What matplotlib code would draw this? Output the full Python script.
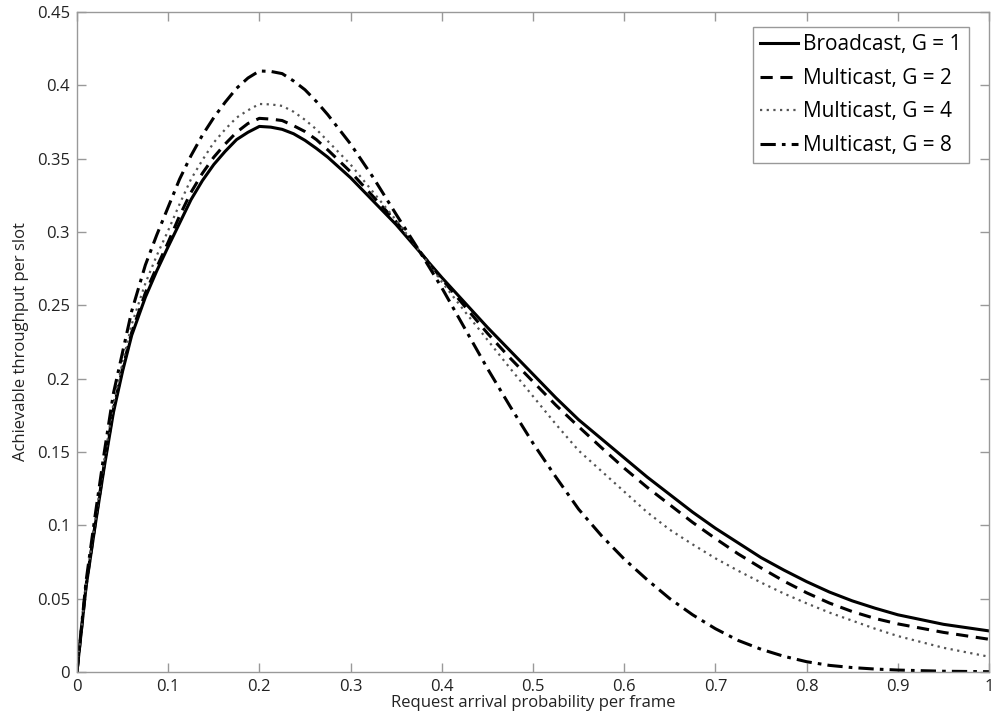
import matplotlib
matplotlib.use("Agg")
import matplotlib.pyplot as plt

plt.rcParams['font.family'] = ['Open Sans', 'DejaVu Sans']

# request arrival probability per frame (sample points)
p = [0.0, 0.01, 0.02, 0.03, 0.04, 0.05, 0.06, 0.075, 0.0875, 0.1, 0.1125, 0.125,
     0.1375, 0.15, 0.1625, 0.175, 0.1875, 0.2, 0.2125, 0.225, 0.2375, 0.25, 0.2625,
     0.275, 0.3, 0.325, 0.35, 0.375, 0.4, 0.425, 0.45, 0.475, 0.5, 0.525, 0.55,
     0.575, 0.6, 0.625, 0.65, 0.675, 0.7, 0.725, 0.75, 0.775, 0.8, 0.825, 0.85,
     0.875, 0.9, 0.95, 1.0]

broadcast_g1 = [0.0, 0.058, 0.100, 0.140, 0.177, 0.205, 0.2295, 0.2555, 0.2735, 0.290,
                0.306, 0.322, 0.335, 0.346, 0.355, 0.363, 0.368, 0.372, 0.3715, 0.370,
                0.367, 0.3625, 0.357, 0.351, 0.337, 0.321, 0.305, 0.287, 0.269, 0.252,
                0.235, 0.219, 0.203, 0.187, 0.172, 0.159, 0.146, 0.133, 0.121, 0.109,
                0.098, 0.088, 0.078, 0.0695, 0.0616, 0.0545, 0.0485, 0.0435, 0.039,
                0.0325, 0.028]

multicast_g2 = [0.0, 0.059, 0.101, 0.142, 0.179, 0.207, 0.2315, 0.2585, 0.276, 0.293,
                0.311, 0.327, 0.340, 0.351, 0.360, 0.368, 0.374, 0.3775, 0.377, 0.376,
                0.3725, 0.3685, 0.363, 0.356, 0.341, 0.324, 0.307, 0.2875, 0.268, 0.2495,
                0.231, 0.214, 0.198, 0.182, 0.1673, 0.153, 0.139, 0.126, 0.114, 0.102,
                0.091, 0.0805, 0.071, 0.062, 0.054, 0.047, 0.0412, 0.0365, 0.0328,
                0.027, 0.0223]

multicast_g4 = [0.0, 0.060, 0.103, 0.145, 0.183, 0.211, 0.237, 0.265, 0.284, 0.301,
                0.319, 0.336, 0.349, 0.361, 0.370, 0.378, 0.383, 0.3873, 0.387, 0.386,
                0.382, 0.3765, 0.370, 0.362, 0.346, 0.327, 0.308, 0.2875, 0.266, 0.246,
                0.2265, 0.207, 0.188, 0.169, 0.151, 0.137, 0.123, 0.109, 0.097, 0.087,
                0.0775, 0.069, 0.061, 0.0535, 0.0468, 0.0405, 0.035, 0.0295, 0.0245,
                0.0165, 0.0104]

multicast_g8 = [0.0, 0.062, 0.107, 0.150, 0.190, 0.218, 0.246, 0.2775, 0.298, 0.317,
                0.336, 0.352, 0.366, 0.378, 0.3885, 0.398, 0.405, 0.4098, 0.4095, 0.408,
                0.403, 0.397, 0.389, 0.380, 0.360, 0.337, 0.312, 0.2875, 0.262, 0.2345,
                0.207, 0.181, 0.156, 0.133, 0.111, 0.093, 0.077, 0.063, 0.050, 0.039,
                0.0295, 0.0215, 0.0155, 0.0107, 0.007, 0.0045, 0.003, 0.002, 0.0013,
                0.0005, 0.0002]

labels = ['Broadcast, G = 1', 'Multicast, G = 2', 'Multicast, G = 4', 'Multicast, G = 8']

fig = plt.figure(figsize=(9.93, 7.2), dpi=100)
ax = fig.add_axes([0.0775, 0.0667, 0.9185, 0.9166])

ax.plot(p, broadcast_g1, color='black', ls='-', lw=2.2, label=labels[0])
ax.plot(p, multicast_g2, color='black', ls=(0, (4, 2.5)), lw=2.2, label=labels[1])
ax.plot(p, multicast_g4, color='#555555', ls=(0, (1, 2)), lw=1.6, label=labels[2])
ax.plot(p, multicast_g8, color='black', ls=(0, (5, 2, 1.2, 2)), lw=2.2, label=labels[3])

ax.set_xlim(0, 1)
ax.set_ylim(0, 0.45)
ax.set_xticks([0, 0.1, 0.2, 0.3, 0.4, 0.5, 0.6, 0.7, 0.8, 0.9, 1])
ax.set_xticklabels(['0', '0.1', '0.2', '0.3', '0.4', '0.5', '0.6', '0.7', '0.8', '0.9', '1'])
ax.set_yticks([0, 0.05, 0.1, 0.15, 0.2, 0.25, 0.3, 0.35, 0.4, 0.45])
ax.set_yticklabels(['0', '0.05', '0.1', '0.15', '0.2', '0.25', '0.3', '0.35', '0.4', '0.45'])

for s in ax.spines.values():
    s.set_color('#999999')
    s.set_linewidth(1.0)
ax.tick_params(direction='in', length=6.5, width=1, color='#999999',
               top=True, right=True, labelsize=12, labelcolor='#222222')
ax.tick_params(axis='x', pad=5)
ax.tick_params(axis='y', pad=5)

ax.set_xlabel('Request arrival probability per frame', fontsize=12, labelpad=0, color='#222222')
ax.set_ylabel('Achievable throughput per slot', fontsize=12, labelpad=6, color='#222222')

leg = ax.legend(loc='upper right', bbox_to_anchor=(0.978, 0.977), borderaxespad=0,
                fontsize=15, fancybox=False, framealpha=1, edgecolor='#999999',
                handlelength=1.8, handletextpad=0.25, labelspacing=0.6,
                borderpad=0.35)
leg.get_frame().set_linewidth(1.0)

fig.savefig('out.png', dpi=100)
